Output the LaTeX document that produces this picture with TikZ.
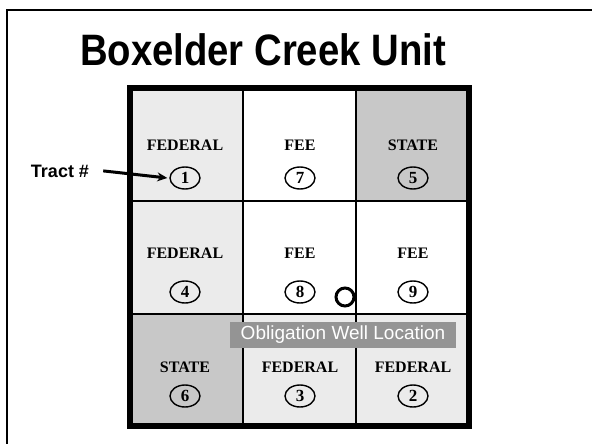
\documentclass[tikz,border=0pt]{standalone}
\usepackage{fontspec}
\setmainfont{Liberation Serif}
\setsansfont{Liberation Sans}
\usetikzlibrary{arrows.meta,shapes.geometric}
\definecolor{unitInk}{HTML}{000000}
\definecolor{unitFed}{HTML}{EBEBEB}
\definecolor{unitState}{HTML}{C8C8C8}
\definecolor{unitTag}{HTML}{949494}
\tikzset{
  every picture/.style={text=unitInk},
  unit owner/.style={font=\rmfamily\bfseries\fontsize{16}{16}\selectfont, inner sep=0pt},
  unit tract/.style={ellipse, draw=unitInk, line width=1.4pt, minimum width=30pt,
    minimum height=22pt, inner sep=0pt, font=\rmfamily\bfseries\fontsize{17}{17}\selectfont},
  unit divider/.style={draw=unitInk, line width=2.2pt},
  unit border/.style={draw=unitInk, line width=6pt},
  unit frame/.style={draw=unitInk, line width=2pt},
  unit arrow/.style={-{Stealth[length=10pt,width=9pt]},
    draw=unitInk, line width=3pt, line cap=butt},
  unit well/.style={circle, draw=unitInk, line width=3pt, minimum size=18pt, inner sep=0pt}
}

\begin{document}
\begin{tikzpicture}[x=1pt, y=-1pt]
  \useasboundingbox (0,0) rectangle (592,444);
  \draw[unit frame] (592,10) -| (7,444);
  \node[font=\sffamily\bfseries\fontsize{44}{44}\selectfont, anchor=base, inner sep=0pt]
    (title) at (263,66) {\scalebox{0.87}[1]{Boxelder Creek Unit}};

  % cell shading
  \fill[unitFed] (130,88) rectangle (243,201);
  \fill[unitState] (356,88) rectangle (469,201);
  \fill[unitFed] (130,201) rectangle (243,314);
  \fill[unitState] (130,314) rectangle (243,426);
  \fill[unitFed] (243,314) rectangle (469,426);
  \draw[unit divider] (243,88) -- (243,426);
  \draw[unit divider] (356,88) -- (356,426);
  \draw[unit divider] (130,201) -- (469,201);
  \draw[unit divider] (130,314) -- (469,314);
  \draw[unit border] (130,88) rectangle (469,426);

  % top row
  \node[unit owner] (own1) at (185,145) {FEDERAL};
  \node[unit tract] (tract1) at (185,178) {1};
  \node[unit owner] (own7) at (300,145) {FEE};
  \node[unit tract] (tract7) at (300,178) {7};
  \node[unit owner] (own5) at (413,145) {STATE};
  \node[unit tract] (tract5) at (413,178) {5};
  % middle row
  \node[unit owner] (own4) at (185,253) {FEDERAL};
  \node[unit tract] (tract4) at (185,292) {4};
  \node[unit owner] (own8) at (300,253) {FEE};
  \node[unit tract] (tract8) at (300,292) {8};
  \node[unit owner] (own9) at (413,253) {FEE};
  \node[unit tract] (tract9) at (413,292) {9};
  % bottom row
  \node[unit owner] (own6) at (185,367) {STATE};
  \node[unit tract] (tract6) at (185,396) {6};
  \node[unit owner] (own3) at (300,367) {FEDERAL};
  \node[unit tract] (tract3) at (300,396) {3};
  \node[unit owner] (own2) at (413,367) {FEDERAL};
  \node[unit tract] (tract2) at (413,396) {2};

  \node[unit well] (well) at (345,297) {};
  \node[fill=unitTag, text=white, font=\sffamily\fontsize{19}{19}\selectfont,
    minimum width=226pt, minimum height=26pt, inner sep=0pt] (welltag) at (343,335)
    {Obligation Well Location};

  \node[font=\sffamily\bfseries\fontsize{18}{18}\selectfont, anchor=base, inner sep=0pt]
    (tractkey) at (60,177) {Tract \#};
  \draw[unit arrow] ([xshift=14pt]tractkey.east) -- ([xshift=-2pt]tract1.west);
\end{tikzpicture}
\end{document}
